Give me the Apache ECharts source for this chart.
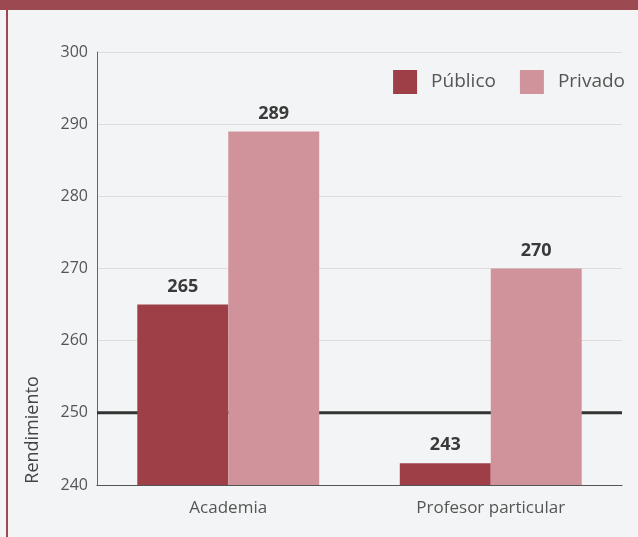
<!DOCTYPE html>
<html>
<head>
<meta charset="utf-8">
<script src="https://cdn.jsdelivr.net/npm/echarts@6/dist/echarts.min.js"></script>
<style>
html,body{margin:0;padding:0;background:#f3f4f5;}
#chart{width:638px;height:537px;}
</style>
</head>
<body>
<div id="chart"></div>
<script>
const categories = ['Academia', 'Profesor particular'];
const publico = [265, 243];
const privado = [289, 270];
const referenceValue = 250;
const yTicks = [240, 250, 260, 270, 280, 290, 300];

const chart = echarts.init(document.getElementById('chart'));
const labelStyle = {
  show: true, position: 'top', distance: 9,
  fontFamily: 'Open Sans', fontSize: 18, fontWeight: 'bold', color: '#3a3a3a',
  letterSpacing: 1
};
chart.setOption({
  backgroundColor: '#f3f4f5',
  animation: false,
  graphic: [
    { type: 'rect', shape: { x: 0, y: 0, width: 638, height: 10 }, style: { fill: '#9a4a50' }, z: 10 },
    { type: 'rect', shape: { x: 6, y: 0, width: 2, height: 537 }, style: { fill: '#a0474e' }, z: 10 },
    { type: 'text', x: 24, y: 430, rotation: Math.PI / 2, style: {
        text: 'Rendimiento', fontFamily: 'Open Sans', fontSize: 18, fill: '#444',
        align: 'center', verticalAlign: 'top', letterSpacing: 1.2 }, z: 10 }
  ],
  legend: {
    data: ['Público', 'Privado'],
    right: 8, top: 65,
    itemWidth: 24, itemHeight: 24, itemGap: 24,
    textStyle: { fontFamily: 'Open Sans', fontSize: 19, color: '#555', padding: [0, 0, 0, 9], letterSpacing: 1.3 },
    icon: 'rect'
  },
  grid: { left: 97, right: 16, top: 52, bottom: 52 },
  xAxis: [{
    type: 'category', data: categories,
    axisLine: { lineStyle: { color: '#555', width: 1.2 } },
    axisTick: { show: false },
    axisLabel: { fontFamily: 'Open Sans', fontSize: 17, color: '#555', margin: 15 }
  }, {
    type: 'value', min: 0, max: 1, show: false
  }],
  yAxis: {
    type: 'value', min: 240, max: 300, interval: 10,
    axisLine: { show: true, lineStyle: { color: '#666', width: 1 } },
    axisTick: { show: false },
    axisLabel: { fontFamily: 'Open Sans', fontSize: 16, color: '#555', margin: 9,
      formatter: v => yTicks.includes(v) ? String(v) : '' },
    splitLine: { lineStyle: { color: '#dcdcdc', width: 1 } }
  },
  series: [
    {
      name: 'ref', type: 'line', xAxisIndex: 1, z: 1,
      data: [[0, referenceValue], [1, referenceValue]],
      symbol: 'none', silent: true,
      lineStyle: { color: '#333', width: 3 }
    },
    {
      name: 'Público', type: 'bar', data: publico, z: 3,
      barGap: 0, barCategoryGap: '30.7%',
      itemStyle: { color: '#9e3f48' },
      label: labelStyle
    },
    {
      name: 'Privado', type: 'bar', data: privado, z: 3,
      barGap: 0, barCategoryGap: '30.7%',
      itemStyle: { color: '#d1939b' },
      label: labelStyle
    }
  ]
});
</script>
</body>
</html>
